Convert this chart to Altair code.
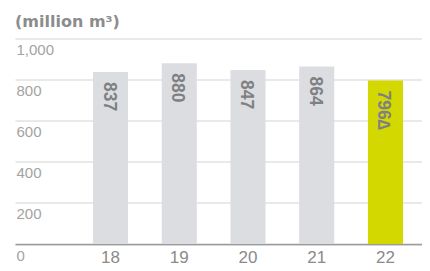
import altair as alt
import pandas as pd

years = ["18", "19", "20", "21", "22"]
values = [837, 880, 847, 864, 796]
labels = ["837", "880", "847", "864", "796∆"]
highlight = [False, False, False, False, True]

df = pd.DataFrame({"year": years, "value": values, "label": labels, "hl": highlight})

FONT = "Liberation Sans"

x = alt.X(
    "year:N",
    sort=years,
    scale=alt.Scale(paddingInner=0.49, paddingOuter=0.7056, align=0.804),
    axis=alt.Axis(
        title=None, ticks=False, domain=True, domainColor="#9b9b9b", domainWidth=1.5,
        labelAngle=0, labelFont=FONT, labelFontSize=17, labelColor="#8a8a8a",
        labelPadding=5, grid=False,
    ),
)
y = alt.Y(
    "value:Q",
    scale=alt.Scale(domain=[0, 1000], nice=False),
    axis=alt.Axis(
        title=None, values=[0, 200, 400, 600, 800, 1000], format=",d",
        domain=False, ticks=False, grid=True, gridColor="#d4d4d4", gridWidth=1.2,
        labelAlign="left", labelBaseline="middle", labelPadding=-1, labelOffset=11,
        labelFont=FONT, labelFontSize=15, labelColor="#a3a3a3", labelFlush=False,
        labelOverlap=False,
    ),
)

bars = alt.Chart(df).mark_bar().encode(
    x=x,
    y=y,
    color=alt.Color("hl:N", scale=alt.Scale(domain=[False, True], range=["#dcdde0", "#d3d800"]), legend=None),
)

text = alt.Chart(df).mark_text(
    angle=90, align="left", baseline="middle", dx=10, dy=2,
    font=FONT, fontSize=17.5, fontWeight="bold", color="#7e8083",
).encode(x=alt.X("year:N", sort=years), y="value:Q", text="label:N")

title = alt.Chart(pd.DataFrame({"t": ["(million m³)"]})).mark_text(
    align="left", baseline="alphabetic", font="DejaVu Sans", fontSize=16,
    fontWeight="bold", color="#8c8c8c",
).encode(x=alt.value(0), y=alt.value(-11.5), text="t:N")

chart = alt.layer(bars, text, title).properties(
    width=407, height=205.5,
    autosize=alt.AutoSizeParams(type="none"),
    padding={"left": 7, "top": 30.5, "right": 0, "bottom": 25},
).configure_view(stroke=None)

chart.save("out.html", embed_options={"renderer": "svg", "actions": False})
